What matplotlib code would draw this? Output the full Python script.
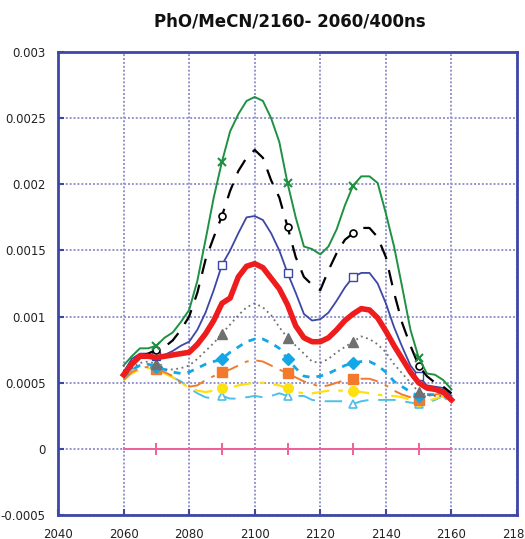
import numpy as np
import matplotlib
matplotlib.use("Agg")
import matplotlib.pyplot as plt

# wavenumber axis (cm-1)
x = [2060 + 2.5 * i for i in range(41)]

green = [0.00063, 0.00070, 0.00076, 0.00076, 0.00078, 0.00084, 0.00088, 0.00096, 0.00105, 0.00127,
         0.00158, 0.00190, 0.00217, 0.00240, 0.00253, 0.00263, 0.00266, 0.00263, 0.00250, 0.00232,
         0.00201, 0.00175, 0.00153, 0.00151, 0.00147, 0.00153, 0.00166, 0.00184, 0.00199, 0.00206,
         0.00206, 0.00201, 0.00178, 0.00153, 0.00122, 0.00090, 0.00069, 0.00057, 0.00056, 0.00052,
         0.00045]
black = [0.00058, 0.00065, 0.00070, 0.00072, 0.00075, 0.00077, 0.00082, 0.00090, 0.00100, 0.00118,
         0.00143, 0.00160, 0.00176, 0.00195, 0.00210, 0.00220, 0.00226, 0.00220, 0.00203, 0.00190,
         0.00168, 0.00145, 0.00130, 0.00124, 0.00120, 0.00135, 0.00148, 0.00158, 0.00163, 0.00167,
         0.00167, 0.00160, 0.00145, 0.00118, 0.00095, 0.00078, 0.00063, 0.00055, 0.00050, 0.00047,
         0.00042]
blue = [0.00058, 0.00068, 0.00072, 0.00072, 0.00070, 0.00071, 0.00074, 0.00078, 0.00081, 0.00090,
        0.00103, 0.00120, 0.00139, 0.00150, 0.00163, 0.00175, 0.00176, 0.00173, 0.00163, 0.00150,
        0.00133, 0.00118, 0.00102, 0.00097, 0.00098, 0.00103, 0.00112, 0.00122, 0.00130, 0.00133,
        0.00133, 0.00125, 0.00110, 0.00092, 0.00077, 0.00063, 0.00055, 0.00048, 0.00047, 0.00046,
        0.00040]
red = [0.00056, 0.00064, 0.00070, 0.00070, 0.00069, 0.00070, 0.00071, 0.00072, 0.00073, 0.00079,
       0.00087, 0.00097, 0.00110, 0.00114, 0.00130, 0.00138, 0.00140, 0.00137, 0.00129, 0.00121,
       0.00109, 0.00093, 0.00084, 0.00081, 0.00081, 0.00084, 0.00090, 0.00097, 0.00102, 0.00106,
       0.00105, 0.00099, 0.00089, 0.00078, 0.00068, 0.00058, 0.00050, 0.00046, 0.00045, 0.00043,
       0.00037]
gray = [0.00055, 0.00061, 0.00065, 0.00066, 0.00064, 0.00060, 0.00060, 0.00061, 0.00063, 0.00068,
        0.00074, 0.00080, 0.00087, 0.00094, 0.00101, 0.00107, 0.00110, 0.00107, 0.00101, 0.00092,
        0.00084, 0.00078, 0.00072, 0.00066, 0.00065, 0.00068, 0.00073, 0.00077, 0.00081, 0.00085,
        0.00083, 0.00079, 0.00073, 0.00064, 0.00057, 0.00050, 0.00043, 0.00041, 0.00040, 0.00040,
        0.00036]
cyan = [0.00054, 0.00060, 0.00063, 0.00064, 0.00062, 0.00060, 0.00058, 0.00057, 0.00058, 0.00061,
        0.00064, 0.00066, 0.00068, 0.00073, 0.00077, 0.00081, 0.00083, 0.00083, 0.00080, 0.00076,
        0.00068, 0.00061, 0.00055, 0.00054, 0.00055, 0.00057, 0.00060, 0.00063, 0.00065, 0.00066,
        0.00066, 0.00063, 0.00058, 0.00051, 0.00047, 0.00043, 0.00040, 0.00041, 0.00041, 0.00042,
        0.00038]
orange = [0.00052, 0.00058, 0.00061, 0.00062, 0.00060, 0.00058, 0.00055, 0.00050, 0.00047, 0.00048,
          0.00052, 0.00055, 0.00058, 0.00060, 0.00063, 0.00066, 0.00067, 0.00066, 0.00063, 0.00060,
          0.00057, 0.00054, 0.00051, 0.00049, 0.00047, 0.00048, 0.00050, 0.00052, 0.00053, 0.00053,
          0.00053, 0.00051, 0.00048, 0.00044, 0.00041, 0.00039, 0.00037, 0.00040, 0.00041, 0.00042,
          0.00037]
yellow = [0.00052, 0.00057, 0.00060, 0.00061, 0.00060, 0.00057, 0.00054, 0.00050, 0.00046, 0.00044,
          0.00043, 0.00044, 0.00046, 0.00046, 0.00048, 0.00049, 0.00050, 0.00050, 0.00049, 0.00048,
          0.00046, 0.00043, 0.00042, 0.00042, 0.00043, 0.00044, 0.00044, 0.00044, 0.00044, 0.00043,
          0.00042, 0.00041, 0.00040, 0.00040, 0.00039, 0.00037, 0.00036, 0.00036, 0.00038, 0.00040,
          0.00036]
lightblue = [0.00054, 0.00060, 0.00063, 0.00064, 0.00062, 0.00058, 0.00054, 0.00051, 0.00046, 0.00042,
             0.00039, 0.00038, 0.00040, 0.00038, 0.00038, 0.00039, 0.00040, 0.00039, 0.00040, 0.00042,
             0.00040, 0.00040, 0.00040, 0.00037, 0.00036, 0.00036, 0.00036, 0.00036, 0.00034, 0.00036,
             0.00037, 0.00037, 0.00037, 0.00037, 0.00036, 0.00035, 0.00034, 0.00035, 0.00037, 0.00040,
             0.00033]
zero = [0.0] * 41

xticks = [2040, 2060, 2080, 2100, 2120, 2140, 2160, 2180]
yticks = [-0.0005, 0, 0.0005, 0.001, 0.0015, 0.002, 0.0025, 0.003]
ytick_labels = ["-0.0005", "0", "0.0005", "0.001", "0.0015", "0.002", "0.0025", "0.003"]
title = "PhO/MeCN/2160- 2060/400ns"

mk = [4, 12, 20, 28, 36]

fig = plt.figure(figsize=(5.25, 5.39), dpi=100)
ax = fig.add_axes([58 / 525, 1 - 515 / 539, (517 - 58) / 525, (515 - 52) / 539])

navy = "#3D47A6"
ax.grid(True, linestyle=(0, (1, 1)), color="#9494D0", linewidth=1.4, zorder=0)
ax.set_axisbelow(True)

ax.plot(x, zero, color="#F0609A", lw=1.4, marker="+", ms=8, mew=1.4, markevery=mk, zorder=2)
ax.plot(x, lightblue, color="#4EC0E8", lw=1.4, dashes=(9, 5), marker="^", ms=6, mfc="white",
        mec="#4EC0E8", mew=1.2, markevery=mk, zorder=3)
ax.plot(x, yellow, color="#FFE010", lw=1.6, dashes=(8, 4, 2, 4), marker="o", ms=7, mfc="#FFE010",
        mec="#FFE010", markevery=mk, zorder=3)
ax.plot(x, orange, color="#F27A2E", lw=1.4, dashes=(9, 4, 2, 4), marker="s", ms=7, mfc="#F27A2E",
        mec="#F27A2E", markevery=mk, zorder=3)
ax.plot(x, cyan, color="#12A8E8", lw=2.0, dashes=(2.5, 2.5), marker="D", ms=6, mfc="#12A8E8",
        mec="#12A8E8", markevery=mk, zorder=3)
ax.plot(x, gray, color="#707070", lw=1.3, dashes=(1, 2), marker="^", ms=7, mfc="#707070",
        mec="#707070", markevery=mk, zorder=3)
ax.plot(x, blue, color="#3D47A6", lw=1.3, marker="s", ms=6, mfc="white", mec="#3D47A6", mew=1.0,
        markevery=mk, zorder=4)
ax.plot(x, black, color="black", lw=1.6, dashes=(7, 5), marker="o", ms=5, mfc="white", mec="black",
        mew=1.2, markevery=mk, zorder=4)
ax.plot(x, green, color="#1F9142", lw=1.4, marker="x", ms=6, mew=1.5, markevery=mk, zorder=4)
ax.plot(x, red, color="#EE1C1C", lw=4.0, zorder=5, solid_joinstyle="round")

ax.set_xlim(2040, 2180)
ax.set_ylim(-0.0005, 0.003)
ax.set_xticks(xticks)
ax.set_yticks(yticks)
ax.set_yticklabels(ytick_labels)
ax.tick_params(axis="both", direction="in", length=4, width=1.5, color=navy,
               labelsize=8.5, labelcolor="#222222")
ax.tick_params(axis="y", pad=9)
ax.tick_params(axis="x", pad=9)
for s in ax.spines.values():
    s.set_color(navy)
    s.set_linewidth(2.0)

fig.text(290 / 525, 1 - 21 / 539, title, ha="center", va="center", fontsize=12, fontweight="bold",
         color="#111111")

fig.savefig("out.png", dpi=100)
